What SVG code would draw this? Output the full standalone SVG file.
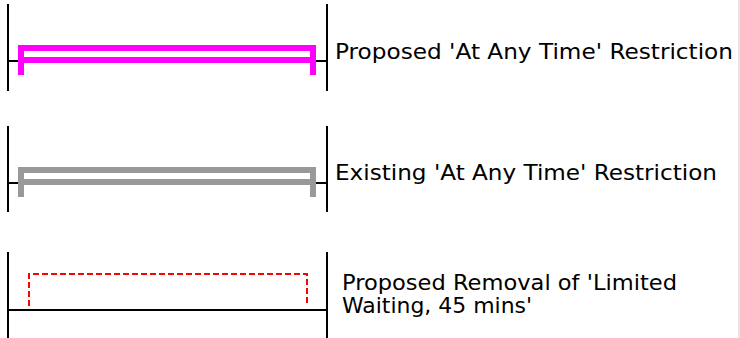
<svg xmlns="http://www.w3.org/2000/svg" width="740" height="338" viewBox="0 0 740 338">
<style>
.frame{stroke:#000;stroke-width:2;fill:none}
.pink{stroke:#ff00ff;stroke-width:6;fill:none;stroke-linejoin:miter;stroke-linecap:butt}
.grey{stroke:#999999;stroke-width:6;fill:none;stroke-linejoin:miter;stroke-linecap:butt}
.red{stroke:#ff0000;stroke-width:2;fill:none;stroke-dasharray:6 3}
.lbl{font-family:"DejaVu Sans","Liberation Sans",sans-serif;font-size:22px;fill:#000}
</style>
<rect width="740" height="338" fill="#fff"/>
<line x1="739" y1="0" x2="739" y2="338" stroke="#cccccc" stroke-width="1"/>
<g id="proposed-aat">
<path class="frame" d="M8,4V91M327,4V91M8,61H18M316,61H327"/>
<path class="pink" d="M21,75V48H313V75M21,60H313"/>
<text class="lbl" x="335" y="59" textLength="398" lengthAdjust="spacingAndGlyphs">Proposed 'At Any Time' Restriction</text>
</g>
<g id="existing-aat">
<path class="frame" d="M8,126V212M327,126V212M8,183H18M316,183H327"/>
<path class="grey" d="M21,197V170H313V197M21,182H313"/>
<text class="lbl" x="335" y="180" textLength="382" lengthAdjust="spacingAndGlyphs">Existing 'At Any Time' Restriction</text>
</g>
<g id="removal-lw">
<path class="frame" d="M8,252V338M327,252V338M8,310H327"/>
<path class="red" d="M29,306V274H307V306"/>
<text class="lbl" x="342" y="290" textLength="335" lengthAdjust="spacingAndGlyphs">Proposed Removal of 'Limited</text>
<text class="lbl" x="342" y="313" textLength="190" lengthAdjust="spacingAndGlyphs">Waiting, 45 mins'</text>
</g>
<g id="connectors"/>
</svg>
